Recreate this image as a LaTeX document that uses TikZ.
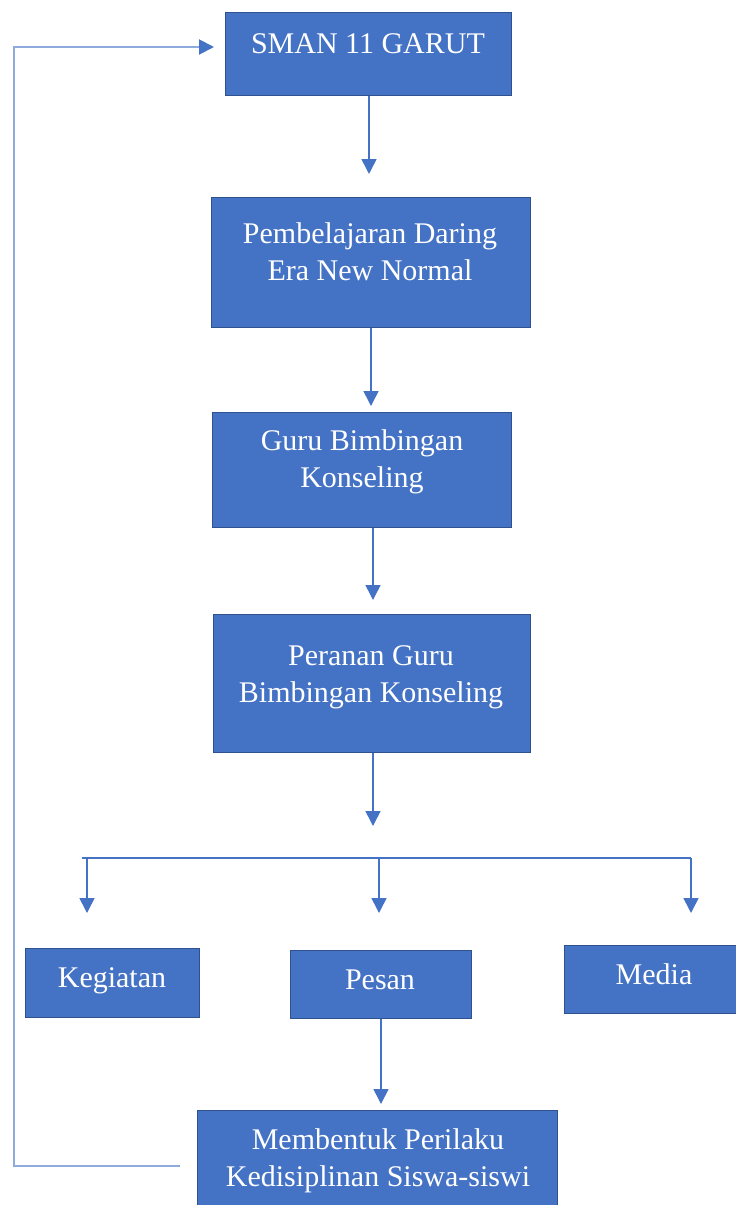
\documentclass[tikz,border=0pt]{standalone}
\usepackage{fontspec}
\setmainfont{Liberation Serif}
\usetikzlibrary{arrows.meta}
\definecolor{boxfill}{RGB}{68,114,196}
\definecolor{boxline}{RGB}{47,82,143}
\definecolor{conn}{RGB}{68,114,196}
\definecolor{fb}{RGB}{143,170,220}
\tikzset{
  box/.style={draw=boxline, line width=0.8pt, fill=boxfill, inner sep=0pt, anchor=north west},
  txt/.style={text=white, font=\fontsize{30}{37}\selectfont, inner sep=0pt, align=center, anchor=base},
  arr/.style={draw=conn, line width=1.6pt, -{Triangle[width=15pt,length=15pt]}},
  plain/.style={draw=conn, line width=1.6pt},
  fbline/.style={draw=fb, line width=2.4pt},
  fbarr/.style={draw=conn, line width=2pt, -{Triangle[width=15pt,length=15pt]}}
}
\begin{document}
\begin{tikzpicture}[x=1pt,y=-1pt]
\useasboundingbox (0,0) rectangle (736,1205);
% boxes
\node[box, minimum width=286pt, minimum height=83pt] (b1) at (225,12) {};
\node[box, minimum width=319pt, minimum height=130pt] (b2) at (211,197) {};
\node[box, minimum width=299pt, minimum height=115pt] (b3) at (212,412) {};
\node[box, minimum width=317pt, minimum height=138pt] (b4) at (213,614) {};
\node[box, minimum width=174pt, minimum height=69pt] (b5) at (25,948) {};
\node[box, minimum width=181pt, minimum height=68pt] (b6) at (290,950) {};
\node[box, minimum width=176pt, minimum height=68pt] (b7) at (564,945) {};
\node[box, minimum width=360pt, minimum height=105pt] (b8) at (197,1110) {};
% texts (base = baseline of the last line)
\node[txt] (t1) at (368,53) {SMAN 11 GARUT};
\node[txt] (t2) at (370,280) {Pembelajaran Daring\\Era New Normal};
\node[txt] (t3) at (362,487) {Guru Bimbingan\\Konseling};
\node[txt] (t4) at (371,702) {Peranan Guru\\Bimbingan Konseling};
\node[txt] (t5) at (112,987) {Kegiatan};
\node[txt] (t6) at (380,989) {Pesan};
\node[txt] (t7) at (654,984) {Media};
\node[txt] (t8) at (378,1186) {Membentuk Perilaku\\Kedisiplinan Siswa-siswi};
% connectors
\coordinate (e1) at (369,174);
\coordinate (e2) at (371,406);
\coordinate (e3) at (373,600);
\coordinate (e4) at (373,826);
\draw[arr] (b1.south -| e1) -- (e1);
\draw[arr] (b2.south -| e2) -- (e2);
\draw[arr] (b3.south -| e3) -- (e3);
\draw[arr] (b4.south -| e4) -- (e4);
\coordinate (hl) at (82,858);
\coordinate (hr) at (691,858);
\coordinate (k1) at (87,858);
\coordinate (k2) at (379,858);
\coordinate (k3) at (691,858);
\draw[plain] (hl) -- (hr);
\draw[arr] (k1) -- ++(0,55);
\draw[arr] (k2) -- ++(0,55);
\draw[arr] (k3) -- ++(0,55);
\coordinate (e6) at (381,1104);
\draw[arr] (b6.south -| e6) -- (e6);
% feedback
\coordinate (f0) at (180,1166);
\coordinate (f1) at (14,1166);
\coordinate (f2) at (14,47);
\coordinate (f3) at (214,47);
\draw[fbline] (f0) -- (f1) -- (f2) -- (200,47);
\draw[fbarr] (199,47) -- (f3);
\end{tikzpicture}
\end{document}
